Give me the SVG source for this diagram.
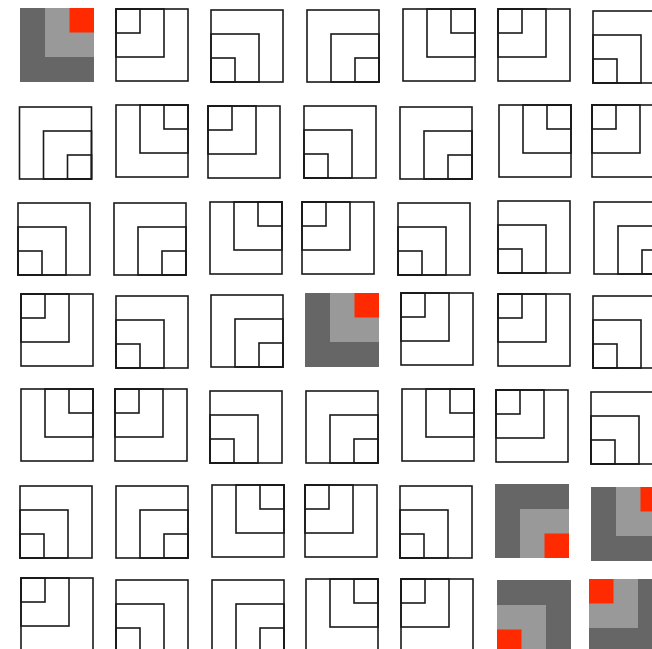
<svg xmlns="http://www.w3.org/2000/svg" xmlns:xlink="http://www.w3.org/1999/xlink" width="652" height="649" viewBox="0 0 652 649">
<style>
.o{fill:none;stroke:#1a1a1a;stroke-width:1.6}
.d{fill:#666666}
.l{fill:#999999}
.r{fill:#ff2a00}
</style>
<defs>
<g id="TL"><rect class="o" x="0" y="0" width="72" height="72"/><rect class="o" x="0" y="0" width="48" height="48"/><rect class="o" x="0" y="0" width="24" height="24"/></g>
<g id="TR"><rect class="o" x="0" y="0" width="72" height="72"/><rect class="o" x="24" y="0" width="48" height="48"/><rect class="o" x="48" y="0" width="24" height="24"/></g>
<g id="BL"><rect class="o" x="0" y="0" width="72" height="72"/><rect class="o" x="0" y="24" width="48" height="48"/><rect class="o" x="0" y="48" width="24" height="24"/></g>
<g id="BR"><rect class="o" x="0" y="0" width="72" height="72"/><rect class="o" x="24" y="24" width="48" height="48"/><rect class="o" x="48" y="48" width="24" height="24"/></g>
<g id="gTL"><rect class="d" x="0" y="0" width="74" height="74"/><rect class="l" x="0" y="0" width="49" height="49"/><rect class="r" x="0" y="0" width="24.5" height="24.5"/></g>
<g id="gTR"><rect class="d" x="0" y="0" width="74" height="74"/><rect class="l" x="25" y="0" width="49" height="49"/><rect class="r" x="49.5" y="0" width="24.5" height="24.5"/></g>
<g id="gBL"><rect class="d" x="0" y="0" width="74" height="74"/><rect class="l" x="0" y="25" width="49" height="49"/><rect class="r" x="0" y="49.5" width="24.5" height="24.5"/></g>
<g id="gBR"><rect class="d" x="0" y="0" width="74" height="74"/><rect class="l" x="25" y="25" width="49" height="49"/><rect class="r" x="49.5" y="49.5" width="24.5" height="24.5"/></g>
</defs>
<rect x="0" y="0" width="652" height="649" fill="#ffffff"/>
<g id="r1c1" transform="translate(20,8)"><use href="#gTR"/></g>
<g id="r1c2" transform="translate(116,9)"><use href="#TL"/></g>
<g id="r1c3" transform="translate(211,10)"><use href="#BL"/></g>
<g id="r1c4" transform="translate(307,10)"><use href="#BR"/></g>
<g id="r1c5" transform="translate(403,9)"><use href="#TR"/></g>
<g id="r1c6" transform="translate(498,9)"><use href="#TL"/></g>
<g id="r1c7" transform="translate(593,11)"><use href="#BL"/></g>

<g id="r2c1" transform="translate(19.5,107)"><use href="#BR"/></g>
<g id="r2c2" transform="translate(116,105)"><use href="#TR"/></g>
<g id="r2c3" transform="translate(208,106)"><use href="#TL"/></g>
<g id="r2c4" transform="translate(304,106)"><use href="#BL"/></g>
<g id="r2c5" transform="translate(400,107)"><use href="#BR"/></g>
<g id="r2c6" transform="translate(499,105)"><use href="#TR"/></g>
<g id="r2c7" transform="translate(592,105)"><use href="#TL"/></g>

<g id="r3c1" transform="translate(18,203)"><use href="#BL"/></g>
<g id="r3c2" transform="translate(114,203)"><use href="#BR"/></g>
<g id="r3c3" transform="translate(210,202)"><use href="#TR"/></g>
<g id="r3c4" transform="translate(302,202)"><use href="#TL"/></g>
<g id="r3c5" transform="translate(398,203)"><use href="#BL"/></g>
<g id="r3c6" transform="translate(498,201)"><use href="#BL"/></g>
<g id="r3c7" transform="translate(594,202)"><use href="#BR"/></g>

<g id="r4c1" transform="translate(21,294)"><use href="#TL"/></g>
<g id="r4c2" transform="translate(116,296)"><use href="#BL"/></g>
<g id="r4c3" transform="translate(211,295)"><use href="#BR"/></g>
<g id="r4c4" transform="translate(305,293)"><use href="#gTR"/></g>
<g id="r4c5" transform="translate(401,293)"><use href="#TL"/></g>
<g id="r4c6" transform="translate(498,294)"><use href="#TL"/></g>
<g id="r4c7" transform="translate(593,296)"><use href="#BL"/></g>

<g id="r5c1" transform="translate(21,389)"><use href="#TR"/></g>
<g id="r5c2" transform="translate(115,389)"><use href="#TL"/></g>
<g id="r5c3" transform="translate(210,391)"><use href="#BL"/></g>
<g id="r5c4" transform="translate(306,391)"><use href="#BR"/></g>
<g id="r5c5" transform="translate(402,389)"><use href="#TR"/></g>
<g id="r5c6" transform="translate(496,390)"><use href="#TL"/></g>
<g id="r5c7" transform="translate(591,392)"><use href="#BL"/></g>

<g id="r6c1" transform="translate(20,486)"><use href="#BL"/></g>
<g id="r6c2" transform="translate(116,486)"><use href="#BR"/></g>
<g id="r6c3" transform="translate(212,485)"><use href="#TR"/></g>
<g id="r6c4" transform="translate(305,485)"><use href="#TL"/></g>
<g id="r6c5" transform="translate(400,486)"><use href="#BL"/></g>
<g id="r6c6" transform="translate(495,484)"><use href="#gBR"/></g>
<g id="r6c7" transform="translate(591,487)"><use href="#gTR"/></g>

<g id="r7c1" transform="translate(21,578)"><use href="#TL"/></g>
<g id="r7c2" transform="translate(116,580)"><use href="#BL"/></g>
<g id="r7c3" transform="translate(212,580)"><use href="#BR"/></g>
<g id="r7c4" transform="translate(306,579)"><use href="#TR"/></g>
<g id="r7c5" transform="translate(401,579)"><use href="#TL"/></g>
<g id="r7c6" transform="translate(497,580)"><use href="#gBL"/></g>
<g id="r7c7" transform="translate(589,579)"><use href="#gTL"/></g>
<g id="connectors"/>
</svg>
